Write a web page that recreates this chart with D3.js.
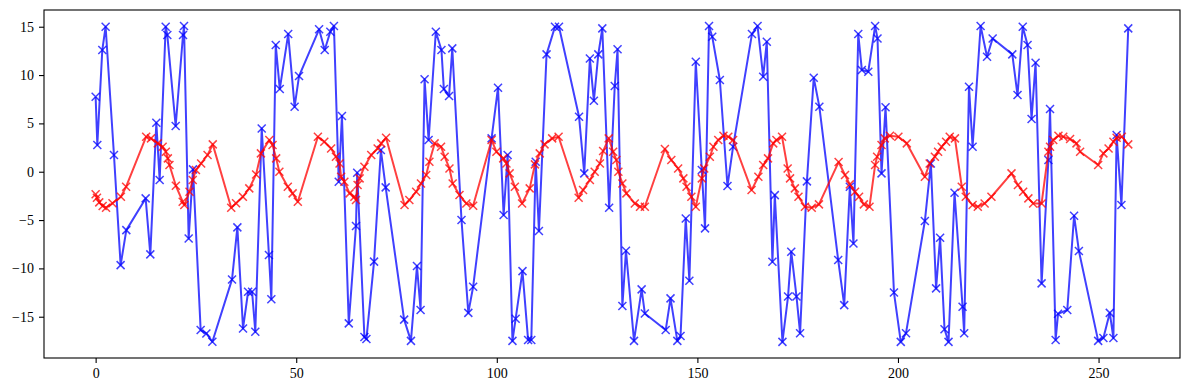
<!DOCTYPE html>
<html>
<head>
<meta charset="utf-8">
<script src="https://cdn.jsdelivr.net/npm/d3@7"></script>
<style>
  body { margin: 0; background: #fff; }
  svg { display: block; }
  .tick text { font-family: "Liberation Serif", "DejaVu Serif", serif; font-size: 14px; fill: #000; }
</style>
</head>
<body>
<div id="wrapper"></div>
<script>
// x positions and values
const xBlue = [0, 0.42, 1.66, 2.49, 4.57, 6.23, 7.65, 12.47, 13.63, 15.13, 15.96, 17.46, 17.87, 19.95, 21.78, 22.03, 23.19, 24.27, 26.18, 27.6, 29.1, 34.0, 35.33, 36.74, 38.0, 39.0, 39.8, 41.4, 43.2, 43.8, 44.9, 45.9, 48.0, 49.6, 50.7, 55.7, 57.1, 58.5, 59.4, 60.6, 61.4, 63.1, 64.9, 65.2, 67.0, 67.5, 69.4, 71.1, 72.3, 76.9, 78.6, 80.1, 81.0, 82.0, 83.0, 84.8, 86.2, 86.8, 88.1, 88.9, 91.2, 92.9, 94.1, 98.7, 100.3, 101.7, 102.7, 103.9, 104.7, 106.4, 107.8, 108.6, 109.7, 110.5, 112.4, 114.5, 115.5, 120.5, 121.8, 123.2, 124.2, 125.3, 126.3, 128.0, 129.4, 130.1, 131.3, 132.2, 134.2, 136.1, 136.9, 142.1, 143.3, 145.0, 145.8, 147.1, 148.0, 149.6, 151.1, 151.9, 152.9, 153.7, 155.6, 157.5, 158.9, 163.6, 165.0, 166.4, 167.3, 168.7, 169.3, 171.2, 172.6, 173.4, 174.7, 175.6, 177.3, 179.0, 180.4, 185.1, 186.6, 188.0, 188.9, 190.1, 191.0, 192.6, 194.3, 194.9, 195.9, 196.9, 199.0, 200.7, 202.0, 206.7, 208.2, 209.5, 210.5, 211.6, 212.6, 214.1, 216.1, 216.5, 217.7, 218.6, 220.6, 222.2, 223.6, 228.5, 229.8, 231.1, 232.3, 233.3, 234.3, 235.8, 237.5, 237.9, 239.3, 239.9, 242.2, 243.9, 245.1, 249.9, 251.2, 252.8, 253.7, 254.5, 255.7, 257.4];
const blueValues = [7.76, 2.76, 12.59, 15.0, 1.73, -9.66, -6.04, -2.76, -8.55, 5.07, -0.86, 15.0, 14.14, 4.73, 14.14, 15.07, -6.9, 0.24, -16.38, -16.73, -17.59, -11.14, -5.76, -16.21, -12.42, -12.42, -16.55, 4.48, -8.62, -13.2, 13.1, 8.55, 14.24, 6.73, 9.9, 14.73, 12.59, 14.48, 15.07, -1.03, 5.76, -15.69, -5.62, -0.1, -17.1, -17.3, -9.3, 2.24, -1.62, -15.3, -17.5, -9.76, -14.3, 9.56, 3.28, 14.48, 12.59, 8.55, 7.83, 12.76, -5.0, -14.6, -11.9, 3.45, 8.69, -4.48, 1.73, -17.5, -15.2, -10.28, -17.4, -17.4, 1.04, -6.14, 12.14, 15.0, 15.0, 5.69, -0.17, 11.72, 7.34, 12.14, 14.83, -3.72, 8.86, 12.66, -13.9, -8.17, -17.5, -12.17, -14.66, -16.38, -13.1, -17.5, -17.0, -4.83, -11.28, 11.38, 0.17, -5.86, 15.07, 13.97, 9.49, -1.48, 2.59, 14.24, 15.07, 9.83, 13.45, -9.31, -2.42, -17.6, -12.9, -8.28, -12.9, -16.7, -1.0, 9.72, 6.73, -9.14, -13.8, -1.55, -7.42, 14.24, 10.52, 10.35, 15.07, 13.79, -0.17, 6.66, -12.5, -17.6, -16.7, -5.1, 0.86, -12.07, -6.83, -16.3, -17.6, -2.17, -13.97, -16.7, 8.8, 2.59, 15.07, 11.9, 13.79, 12.14, 7.93, 15.0, 13.1, 5.45, 11.28, -11.55, 1.21, 6.48, -17.4, -14.7, -14.3, -4.55, -8.2, -17.5, -17.2, -14.6, -17.2, 3.8, -3.45, 14.83];

const xRed = [0, 0.33, 0.9, 1.75, 2.6, 4.2, 6.3, 7.6, 12.6, 13.8, 15.5, 16.7, 17.5, 18.0, 18.4, 20.0, 21.7, 22.1, 23.4, 24.2, 25.0, 26.3, 27.9, 29.2, 33.8, 35.0, 36.7, 38.3, 40.0, 41.2, 43.3, 44.1, 45.0, 45.8, 47.9, 49.1, 50.4, 55.4, 57.0, 58.7, 59.9, 60.8, 61.2, 62.0, 63.3, 64.5, 64.9, 65.3, 65.8, 67.0, 68.7, 70.3, 71.2, 72.4, 77.0, 78.2, 79.9, 81.1, 82.4, 83.2, 84.5, 86.1, 87.0, 88.2, 89.0, 90.7, 92.4, 94.1, 98.7, 99.9, 101.6, 102.4, 103.2, 104.5, 106.3, 108.2, 109.5, 110.7, 111.9, 113.8, 115.4, 120.4, 121.5, 123.2, 124.4, 125.7, 126.5, 127.9, 129.0, 129.8, 130.3, 131.3, 132.3, 134.4, 135.7, 136.9, 141.9, 143.5, 145.2, 146.5, 147.3, 148.5, 149.6, 151.1, 151.7, 153.1, 154.0, 155.2, 156.5, 157.7, 158.9, 163.5, 165.2, 166.4, 167.6, 168.9, 169.7, 171.1, 172.5, 173.1, 174.3, 175.2, 176.8, 178.5, 180.3, 185.2, 186.8, 188.0, 189.3, 190.3, 191.5, 192.9, 194.3, 194.8, 195.9, 196.7, 198.0, 200.1, 202.2, 206.7, 207.9, 209.2, 210.0, 210.9, 212.0, 212.9, 214.2, 215.9, 216.9, 218.6, 219.9, 221.6, 223.3, 228.3, 229.9, 231.2, 232.5, 233.7, 235.8, 237.5, 237.9, 238.7, 240.0, 241.2, 242.9, 244.5, 245.4, 249.9, 251.2, 252.5, 253.7, 254.5, 255.8, 257.4];
const redValues = [-2.34, -2.69, -3.17, -3.55, -3.72, -3.27, -2.59, -1.55, 3.62, 3.45, 2.93, 2.59, 2.07, 1.38, 0.69, -1.45, -3.1, -3.45, -2.07, -0.86, 0.17, 0.86, 1.73, 2.83, -3.72, -3.27, -2.59, -1.72, -0.28, 1.9, 3.28, 2.76, 1.38, 0.0, -1.55, -2.24, -3.1, 3.62, 3.1, 2.41, 1.55, 0.86, -0.52, -1.03, -2.24, -2.59, -2.93, -1.38, -0.69, 0.52, 1.73, 2.41, 2.93, 3.52, -3.45, -2.93, -2.07, -1.21, -0.34, 1.03, 2.93, 2.59, 1.55, 0.34, -1.21, -2.41, -3.28, -3.52, 3.28, 2.07, 1.38, 0.86, -0.17, -1.55, -3.28, -1.72, 0.76, 1.9, 2.83, 3.45, 3.62, -2.69, -1.9, -0.86, 0.0, 0.86, 2.14, 3.45, 2.07, 1.21, 0.0, -1.21, -2.24, -3.28, -3.62, -3.62, 2.35, 1.21, 0.34, -0.69, -1.55, -2.59, -3.62, -0.69, 0.34, 1.55, 2.59, 3.28, 3.73, 3.62, 3.28, -1.9, -0.52, 0.69, 1.38, 2.93, 3.28, 3.62, 0.34, -0.69, -1.72, -2.59, -3.62, -3.72, -3.38, 1.0, -0.34, -1.31, -2.07, -2.59, -3.38, -3.62, 0.69, 1.55, 2.76, 3.45, 3.73, 3.62, 2.93, -0.52, 0.86, 1.55, 2.07, 2.59, 3.1, 3.62, 3.45, -1.55, -2.59, -3.45, -3.62, -3.28, -2.59, -0.17, -1.38, -2.07, -2.76, -3.28, -3.28, 2.07, 2.59, 3.28, 3.73, 3.62, 3.38, 2.93, 2.07, 0.69, 1.9, 2.41, 3.1, 3.52, 3.62, 2.83];

const xTicks = [0, 50, 100, 150, 200, 250];
const yTicks = [-15, -10, -5, 0, 5, 10, 15];

const width = 1189;
const height = 390;
const margin = { top: 10, right: 9, bottom: 32, left: 44 };

const svg = d3.select("#wrapper")
  .append("svg")
  .attr("width", width)
  .attr("height", height);

const xScale = d3.scaleLinear()
  .domain([-12.87, 270.3])
  .range([margin.left, width - margin.right]);

const yScale = d3.scaleLinear()
  .domain([-19.27, 16.73])
  .range([height - margin.bottom, margin.top]);

// axes
const xAxis = svg.append("g")
  .attr("transform", `translate(0, ${height - margin.bottom})`)
  .call(d3.axisBottom(xScale).tickValues(xTicks).tickSize(5).tickPadding(5).tickSizeOuter(0));

const yAxis = svg.append("g")
  .attr("transform", `translate(${margin.left}, 0)`)
  .call(d3.axisLeft(yScale).tickValues(yTicks).tickSize(5).tickPadding(5).tickSizeOuter(0));

[xAxis, yAxis].forEach((ax) => {
  ax.select(".domain").remove();
  ax.selectAll(".tick line").attr("stroke", "#000").attr("stroke-width", 1.1);
});

const clip = svg.append("defs").append("clipPath").attr("id", "plot-clip")
  .append("rect")
  .attr("x", margin.left)
  .attr("y", margin.top)
  .attr("width", width - margin.left - margin.right)
  .attr("height", height - margin.top - margin.bottom);

const plot = svg.append("g").attr("clip-path", "url(#plot-clip)");

function drawSeries(xs, ys, color) {
  const pts = xs.map((x, i) => [x, ys[i]]);
  const line = d3.line()
    .x((d) => xScale(d[0]))
    .y((d) => yScale(d[1]));

  const g = plot.append("g").attr("opacity", 1);

  g.append("path")
    .attr("d", line(pts))
    .attr("fill", "none")
    .attr("stroke", color)
    .attr("stroke-opacity", 0.75)
    .attr("stroke-width", 2)
    .attr("stroke-linejoin", "round");

  const s = 4;
  g.selectAll(".marker")
    .data(pts)
    .enter()
    .append("path")
    .attr("class", "marker")
    .attr("d", (d) => {
      const cx = xScale(d[0]);
      const cy = yScale(d[1]);
      return `M${cx - s},${cy - s}L${cx + s},${cy + s}M${cx - s},${cy + s}L${cx + s},${cy - s}`;
    })
    .attr("stroke", color)
    .attr("stroke-opacity", 0.75)
    .attr("stroke-width", 1.5)
    .attr("fill", "none");
}

drawSeries(xBlue, blueValues, "blue");
drawSeries(xRed, redValues, "red");

// frame
svg.append("rect")
  .attr("x", margin.left)
  .attr("y", margin.top)
  .attr("width", width - margin.left - margin.right)
  .attr("height", height - margin.top - margin.bottom)
  .attr("fill", "none")
  .attr("stroke", "#000")
  .attr("stroke-width", 1.1);
</script>
</body>
</html>
